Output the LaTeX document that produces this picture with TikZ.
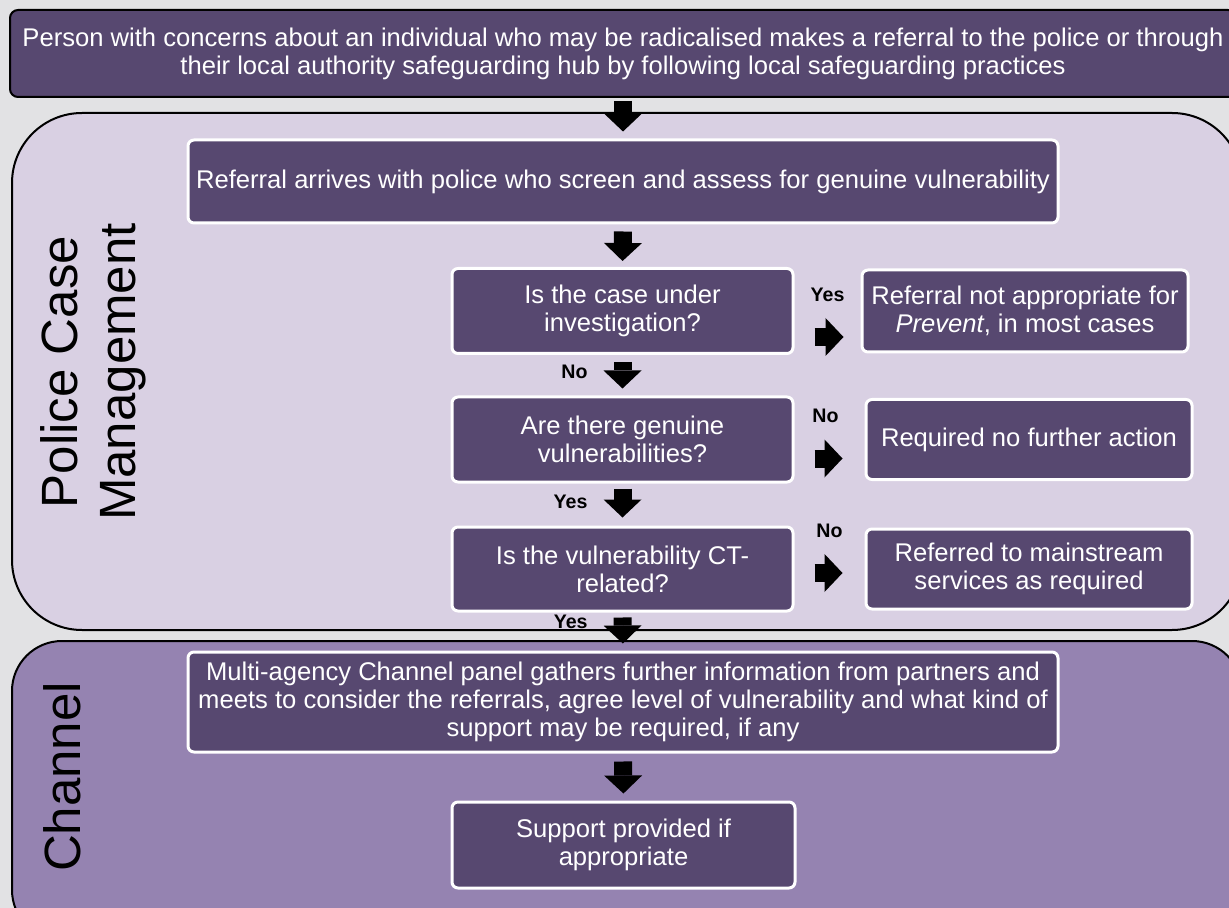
\documentclass[tikz,border=0pt]{standalone}
\usepackage{fontspec}
\setmainfont{Liberation Sans}
\usetikzlibrary{arrows.meta}
\definecolor{boxfill}{HTML}{574870}
\definecolor{policefill}{HTML}{D9D0E3}
\definecolor{channelfill}{HTML}{9583B1}
\definecolor{pagegrey}{HTML}{E2E2E4}

\tikzset{
  flowbox/.style={draw=white, line width=1.5pt, fill=boxfill, rounded corners=3pt,
    text=white, align=center, inner sep=0pt, font=\fontsize{12.8}{14}\selectfont},
  blockarrow/.style={line width=9pt, -{Triangle[length=9pt, width=19pt, line width=0pt]}},
  answer/.style={inner sep=0pt, font=\fontsize{9.8}{10}\selectfont\bfseries},
  panel/.style={draw=black, line width=1pt},
  lanelabel/.style={rotate=90, align=center, font=\fontsize{25.5}{29}\selectfont}
}

\begin{document}
\begin{tikzpicture}[x=0.5pt,y=-0.5pt]
\clip (0,0) rectangle (1229,908);
\fill[pagegrey] (0,0) rectangle (1229,908);
% lanes
\draw[panel, fill=policefill, rounded corners=35pt] (12,113) rectangle (1242,630);
\draw[panel, fill=channelfill, rounded corners=25pt] (12,641) rectangle (1242,940);
\node[lanelabel] (policelabel) at (93,372) {Police Case\\Management};
\node[lanelabel] (channellabel) at (62,777) {Channel};
% boxes
\node[flowbox, draw=black, line width=1pt, rounded corners=4pt, minimum width=613pt, minimum height=43.5pt] (person) at (623,53.5)
  {Person with concerns about an individual who may be radicalised makes a referral to the police or through\\their local authority safeguarding hub by following local safeguarding practices};
\node[flowbox, minimum width=435pt, minimum height=41.5pt] (referral) at (623,181.5)
  {Referral arrives with police who screen and assess for genuine vulnerability};
\node[flowbox, minimum width=170.5pt, minimum height=42.5pt] (q1) at (622.5,311) {Is the case under\\investigation?};
\node[flowbox, minimum width=163pt, minimum height=41pt] (r1) at (1025,311) {Referral not appropriate for\\\textit{Prevent}, in most cases};
\node[flowbox, minimum width=170.5pt, minimum height=42.5pt] (q2) at (622.5,439.5) {Are there genuine\\vulnerabilities?};
\node[flowbox, minimum width=163pt, minimum height=40pt] (r2) at (1029,439.5) {Required no further action};
\node[flowbox, minimum width=170.5pt, minimum height=42pt] (q3) at (622.5,569) {Is the vulnerability CT-\\related?};
\node[flowbox, minimum width=163pt, minimum height=40pt] (r3) at (1029,569) {Referred to mainstream\\services as required};
\node[flowbox, minimum width=435pt, minimum height=50pt] (panelmeet) at (623,702)
  {Multi-agency Channel panel gathers further information from partners and\\meets to consider the referrals, agree level of vulnerability and what kind of\\support may be required, if any};
\node[flowbox, minimum width=171.5pt, minimum height=43pt] (support) at (623.5,845) {Support provided if\\appropriate};
% arrows
\draw[blockarrow, shorten <=1.5pt, shorten >=3.5pt] (person.south) -- (referral.north);
\draw[blockarrow, shorten <=3.5pt, shorten >=3pt] (referral.south) -- (q1.north);
\draw[blockarrow, shorten <=3.5pt, shorten >=3.5pt] (q1.south) -- (q2.north)
  node[answer, pos=0.41, left=13pt] {No};
\draw[blockarrow, shorten <=2.5pt, shorten >=4pt] (q2.south) -- (q3.north)
  node[answer, pos=0.43, left=13pt] {Yes};
\draw[blockarrow, shorten <=2.5pt, shorten >=3.5pt] (q3.south) -- (panelmeet.north)
  node[answer, pos=0.24, left=13pt] {Yes};
\draw[blockarrow, shorten <=4pt, shorten >=3.5pt] (panelmeet.south) -- (support.north);
\draw[blockarrow, shorten <=10pt, shorten >=8.5pt] ([yshift=-13pt]q1.east) -- ([yshift=-13pt]r1.west)
  node[answer, midway, above=13pt] {Yes};
\draw[blockarrow, shorten <=10pt, shorten >=11pt] ([yshift=-9.5pt]q2.east) -- ([yshift=-9.5pt]r2.west)
  node[answer, midway, above=13.5pt, xshift=-2pt] {No};
\draw[blockarrow, shorten <=10pt, shorten >=11pt] ([yshift=-2pt]q3.east) -- ([yshift=-2pt]r3.west)
  node[answer, midway, above=13pt] {No};
\end{tikzpicture}
\end{document}
